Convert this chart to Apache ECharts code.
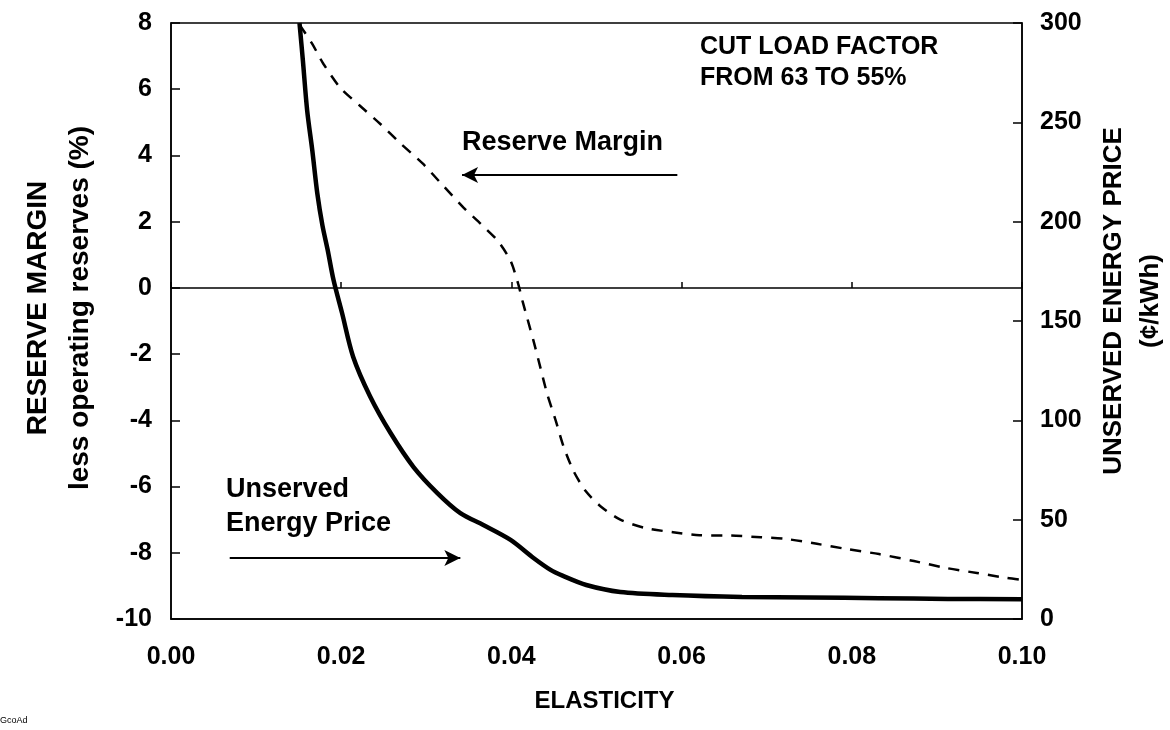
<!DOCTYPE html>
<html><head><meta charset="utf-8">
<script src="https://cdn.jsdelivr.net/npm/echarts@6.0.0/dist/echarts.min.js"></script>
<style>html,body{margin:0;padding:0;background:#fff}#c{width:1170px;height:730px}</style>
</head><body><div id="c"></div>
<script>
// ---- data ----
const reserveX = [0.0151, 0.0166, 0.0179, 0.0199, 0.0222, 0.0246, 0.0269, 0.0296, 0.0320, 0.0344, 0.0364, 0.0384, 0.0399, 0.0408,
                  0.0413, 0.0419, 0.0426, 0.0434, 0.0442, 0.0452, 0.0461, 0.0473, 0.0487, 0.0505, 0.0528, 0.0557, 0.0590,
                  0.0621, 0.0658, 0.0693, 0.0722, 0.0759, 0.0795, 0.0832, 0.0873, 0.0911, 0.0947, 0.0982, 0.1000];
const reserveY = [7.95, 7.37, 6.77, 6.04, 5.50, 4.95, 4.38, 3.75, 3.08, 2.42, 1.93, 1.42, 0.82, 0.12,
                  -0.39, -0.95, -1.6, -2.4, -3.2, -4.0, -4.77, -5.53, -6.13, -6.6, -7.0, -7.25, -7.38,
                  -7.47, -7.48, -7.53, -7.58, -7.73, -7.89, -8.04, -8.25, -8.46, -8.61, -8.76, -8.82];
const priceX = [0.0151, 0.0155, 0.0160, 0.0166, 0.0172, 0.0178, 0.0184, 0.0191, 0.0201, 0.0214, 0.0234, 0.0258, 0.0285, 0.0313,
                0.0340, 0.0367, 0.0399, 0.0426, 0.0446, 0.0460, 0.0488, 0.0528, 0.0589, 0.0671, 0.0751, 0.0832, 0.0913, 0.1000];
const priceY = [300, 281, 256, 236, 214, 198, 186, 170.6, 154, 132, 112, 93.6, 76.5, 63.4,
                53.3, 47.3, 39.8, 30.7, 24.7, 21.8, 17.1, 13.6, 12.1, 11.1, 10.8, 10.5, 10.1, 10.0];
const xTickLabels = ['0.00', '0.02', '0.04', '0.06', '0.08', '0.10'];
const leftTickLabels = ['-10', '-8', '-6', '-4', '-2', '0', '2', '4', '6', '8'];
const rightTickLabels = ['0', '50', '100', '150', '200', '250', '300'];
// annotation arrows, in data units (left axis)
const reserveArrow = [[0.0595, 3.41], [0.0342, 3.41]];
const priceArrow = [[0.0069, -8.16], [0.0340, -8.16]];

const FONT = '"Liberation Sans", Arial, Helvetica, sans-serif';
const chart = echarts.init(document.getElementById('c'), null, {renderer: 'canvas'});
const lbl = {color: '#000', fontFamily: FONT, fontWeight: 'bold', fontSize: 25};
const zip = (a, b) => a.map((v, i) => [v, b[i]]);

chart.setOption({
  animation: false,
  backgroundColor: '#fff',
  grid: {left: 171, right: 148, top: 23, bottom: 111, show: true, borderColor: '#000', borderWidth: 1.5,
         backgroundColor: 'transparent', containLabel: false, outerBoundsMode: 'none'},
  xAxis: [{
    type: 'value', min: 0, max: 0.1, interval: 0.02, position: 'bottom',
    axisLine: {show: true, onZero: false, lineStyle: {color: '#000', width: 1.5}},
    axisTick: {show: false}, splitLine: {show: false},
    axisLabel: Object.assign({margin: 26, formatter: (v) => xTickLabels[Math.round(v / 0.02)]}, lbl),
    name: 'ELASTICITY', nameLocation: 'middle', nameGap: 70,
    nameTextStyle: {color: '#000', fontFamily: FONT, fontWeight: 'bold', fontSize: 24, padding: [0, 0, 0, 16]}
  }, {
    type: 'value', min: 0, max: 0.1, interval: 0.02, position: 'bottom',
    axisLine: {show: true, onZero: true, onZeroAxisIndex: 0, lineStyle: {color: '#000', width: 1.5}},
    axisTick: {show: true, inside: true, length: 6, lineStyle: {color: '#000', width: 1.5}},
    axisLabel: {show: false}, splitLine: {show: false}
  }],
  yAxis: [{
    type: 'value', min: -10, max: 8, interval: 2, position: 'left',
    axisLine: {show: true, onZero: false, lineStyle: {color: '#000', width: 1.5}},
    axisTick: {show: true, inside: true, length: 9, lineStyle: {color: '#000', width: 1.5}},
    splitLine: {show: false},
    axisLabel: Object.assign({margin: 19, formatter: (v) => leftTickLabels[Math.round((v + 10) / 2)]}, lbl),
    name: 'RESERVE MARGIN\nless operating reserves (%)', nameLocation: 'middle', nameRotate: 90, nameGap: 70,
    nameTextStyle: {color: '#000', fontFamily: FONT, fontWeight: 'bold', fontSize: 28, lineHeight: 42, padding: [0, 0, 0, 26]}
  }, {
    type: 'value', min: 0, max: 300, interval: 50, position: 'right',
    axisLine: {show: true, onZero: false, lineStyle: {color: '#000', width: 1.5}},
    axisTick: {show: true, inside: true, length: 9, lineStyle: {color: '#000', width: 1.5}},
    splitLine: {show: false},
    axisLabel: Object.assign({margin: 18, formatter: (v) => rightTickLabels[Math.round(v / 50)]}, lbl),
    name: 'UNSERVED ENERGY PRICE\n(¢/kWh)', nameLocation: 'middle', nameRotate: 90, nameGap: 73,
    nameTextStyle: {color: '#000', fontFamily: FONT, fontWeight: 'bold', fontSize: 26, lineHeight: 37, padding: [0, 0, 0, 40]}
  }],
  series: [{
    name: 'Reserve Margin', type: 'line', xAxisIndex: 0, yAxisIndex: 0,
    data: zip(reserveX, reserveY), smooth: 0.25, showSymbol: false, symbol: 'none',
    lineStyle: {color: '#000', width: 2.5, type: [11, 9]},
    markLine: {
      silent: true, symbol: ['none', 'arrow'], symbolSize: [12, 16],
      label: {show: false},
      lineStyle: {color: '#000', width: 2, type: 'solid'},
      data: [
        [{coord: reserveArrow[0]}, {coord: reserveArrow[1]}],
        [{coord: priceArrow[0]}, {coord: priceArrow[1]}]
      ]
    }
  }, {
    name: 'Unserved Energy Price', type: 'line', xAxisIndex: 0, yAxisIndex: 1,
    data: zip(priceX, priceY), smooth: 0.3, showSymbol: false, symbol: 'none',
    lineStyle: {color: '#000', width: 4.5}
  }],
  graphic: [
    {type: 'text', left: 700, top: 32, style: {text: 'CUT LOAD FACTOR\nFROM 63 TO 55%', fill: '#000', font: 'bold 25px ' + FONT, lineHeight: 31}},
    {type: 'text', left: 462, top: 129, style: {text: 'Reserve Margin', fill: '#000', font: 'bold 27px ' + FONT}},
    {type: 'text', left: 226, top: 473, style: {text: 'Unserved\nEnergy Price', fill: '#000', font: 'bold 27px ' + FONT, lineHeight: 34}},
    {type: 'text', left: 0, top: 716, style: {text: 'GcoAd', fill: '#000', font: '9px ' + FONT}}
  ]
});
</script></body></html>
